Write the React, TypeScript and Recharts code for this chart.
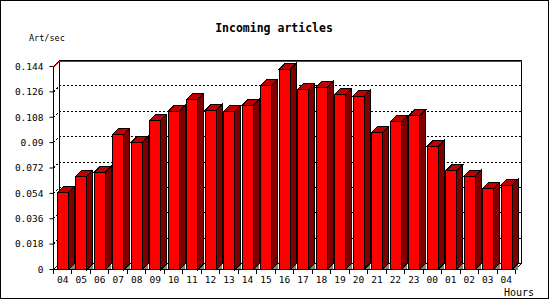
import React from 'react';
import { BarChart, Bar, XAxis, YAxis, CartesianGrid } from 'recharts';

const hours = ['04', '05', '06', '07', '08', '09', '10', '11', '12', '13', '14', '15', '16', '17', '18', '19', '20', '21', '22', '23', '00', '01', '02', '03', '04'];
const artPerSec = [0.0547, 0.0663, 0.069, 0.096, 0.0903, 0.106, 0.1123, 0.1208, 0.113, 0.1123, 0.1166, 0.1308, 0.1422, 0.128, 0.1294, 0.1244, 0.123, 0.0974, 0.1047, 0.109, 0.0874, 0.0699, 0.0663, 0.0576, 0.0599];
const yTicks = [0, 0.018, 0.036, 0.054, 0.072, 0.09, 0.108, 0.126, 0.144];

const data = hours.map((hour, i) => ({ hour, rate: artPerSec[i] }));

// plot box (front plane) and depth of the 3d effect
const LEFT = 53.5;
const RIGHT = 515.5;
const TOP = 66.5;
const BOTTOM = 269.5;
const D = 6;
const MONO = '"DejaVu Sans Mono", monospace';

function Bar3D(props: any) {
  const { x, y, width: w, height: h } = props;
  if (w == null || h == null) return null;
  const xr = x + w;
  const yb = y + h;
  return (
    <g shapeRendering="crispEdges">
      <polygon points={`${xr},${yb} ${xr + D},${yb - D} ${xr + D},${yb}`} fill="#808080" />
      <polygon points={`${xr},${y} ${xr + D},${y - D} ${xr + D},${yb - D} ${xr},${yb}`} fill="#800000" stroke="#000" />
      <polygon points={`${x},${y} ${x + D},${y - D} ${xr + D},${y - D} ${xr},${y}`} fill="#c00000" stroke="#000" />
      <rect x={x} y={y} width={w} height={h} fill="#ff0000" stroke="#000" />
    </g>
  );
}

function gridLine(p: any) {
  const { x1, x2, y1 } = p;
  if (Math.abs(y1 - TOP) < 1) {
    return (
      <polyline key={p.key} points={`${x1},${y1 + 1} ${x1 + D},${y1 - D + 1} ${x2 + D},${y1 - D + 1}`}
        fill="none" stroke="#ff0000" shapeRendering="crispEdges" />
    );
  }
  if (Math.abs(y1 - BOTTOM) < 1) {
    return (
      <polyline key={p.key} points={`${x1},${y1} ${x1 + D},${y1 - D} ${x2 + D},${y1 - D}`}
        fill="none" stroke="#000" shapeRendering="crispEdges" />
    );
  }
  return (
    <polyline key={p.key} points={`${x1},${y1} ${x1 + D},${y1 - D} ${x2 + D},${y1 - D}`}
      fill="none" stroke="#000" strokeDasharray="2 2" shapeRendering="crispEdges" />
  );
}

function HourTick(props: any) {
  const { x, y, payload } = props;
  const band = (RIGHT - LEFT) / hours.length;
  return (
    <g>
      <line x1={x - band / 2} x2={x - band / 2} y1={BOTTOM} y2={BOTTOM + 4} stroke="#000" shapeRendering="crispEdges" />
      <line x1={x + band / 2} x2={x + band / 2} y1={BOTTOM} y2={BOTTOM + 4} stroke="#000" shapeRendering="crispEdges" />
      <text x={x} y={y} dy="0.71em" textAnchor="middle" fontSize={9.5} fontFamily={MONO} fill="#000">
        {payload.value}
      </text>
    </g>
  );
}

export default function App() {
  return (
    <div style={{ position: 'absolute', left: 0, top: 0, width: 550, height: 300, background: '#fff' }}>
      <svg width={550} height={300} style={{ position: 'absolute', left: 0, top: 0 }}>
        <rect x={0.5} y={0.5} width={548} height={298} fill="#fff" stroke="#000" />
        <text x={274} y={31.8} textAnchor="middle" fontSize={11.5} fontWeight="bold" fontFamily={MONO}>Incoming articles</text>
        <text x={29} y={40.5} fontSize={8.5} fontFamily={MONO}>Art/sec</text>
        <text x={534} y={296} textAnchor="end" fontSize={10} fontFamily={MONO}>Hours</text>
        <g fill="none" stroke="#000" shapeRendering="crispEdges">
          <polyline points={`${LEFT + D},${BOTTOM - D} ${LEFT + D},${TOP - D} ${RIGHT + D},${TOP - D} ${RIGHT + D},${BOTTOM - D} ${RIGHT},${BOTTOM}`} />
          <line x1={LEFT} y1={TOP} x2={LEFT + D} y2={TOP - D} />
        </g>
      </svg>
      <div style={{ position: 'absolute', left: 0, top: 0 }}>
        <BarChart width={550} height={300} data={data}
          margin={{ top: TOP, right: 550 - RIGHT, left: LEFT - 45, bottom: 300 - BOTTOM - 25 }}>
          <CartesianGrid vertical={false} horizontal={gridLine} />
          <XAxis dataKey="hour" height={25} tickLine={false} tickSize={6} tickMargin={1} interval={0}
            axisLine={{ stroke: '#000' }} tick={HourTick} />
          <YAxis width={45} domain={[0, 0.144]} ticks={yTicks} interval={0} tickSize={4} tickMargin={6}
            axisLine={{ stroke: '#000' }} tickLine={{ stroke: '#000' }}
            tickFormatter={(v: number) => String(Number(v.toFixed(3)))}
            tick={{ fill: '#000', fontSize: 9.5, fontFamily: MONO }} />
          <Bar dataKey="rate" barSize={11} shape={Bar3D} isAnimationActive={false} />
        </BarChart>
      </div>
    </div>
  );
}
